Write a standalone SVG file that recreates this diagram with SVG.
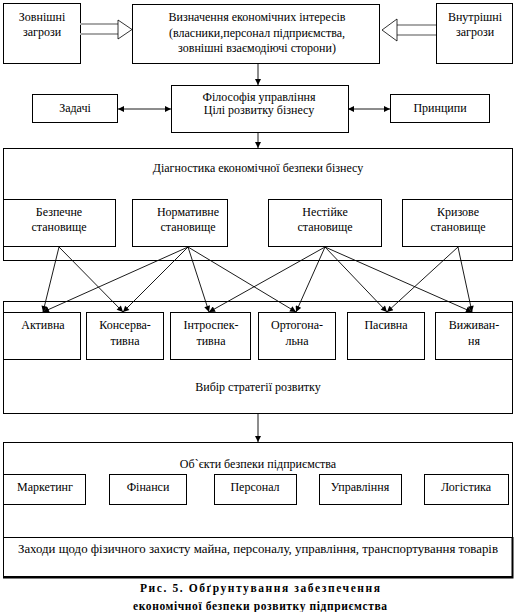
<svg xmlns="http://www.w3.org/2000/svg" width="519" height="612" viewBox="0 0 519 612">
<style>
  rect.b { fill: #fff; stroke: #000; stroke-width: 1; }
  text { font-family: "Liberation Serif", "Times New Roman", serif; font-size: 12px; fill: #000; text-anchor: middle; }
  text.cap { font-weight: bold; font-size: 11.5px; }
  .c line { stroke: #000; stroke-width: 0.9; fill: none; }
  .hollow .shaft { stroke: #a8a8a8; stroke-width: 2; }
  .hollow .head { fill: #fff; stroke: #000; stroke-width: 0.8; }
</style>
<defs>
  <marker id="ah" viewBox="0 0 10 10" refX="10" refY="5" markerWidth="7" markerHeight="6" markerUnits="userSpaceOnUse" orient="auto">
    <path d="M0,0 L10,5 L0,10 z" fill="#000"/>
  </marker>
  <marker id="as" viewBox="0 0 10 10" refX="0" refY="5" markerWidth="7" markerHeight="6" markerUnits="userSpaceOnUse" orient="auto">
    <path d="M10,0 L0,5 L10,10 z" fill="#000"/>
  </marker>
</defs>
<rect width="519" height="612" fill="#fff"/>

<g id="external-threats">
  <rect class="b" x="3.5" y="3.5" width="77" height="60"/>
  <text x="42" y="21">Зовнішні</text>
  <text x="42" y="36">загрози</text>
</g>
<g id="interests">
  <rect class="b" x="132.5" y="4.5" width="247" height="59"/>
  <text x="257" y="21">Визначення економічних інтересів</text>
  <text x="257" y="37">(власники,персонал підприємства,</text>
  <text x="257" y="52">зовнішні взаємодіючі сторони)</text>
</g>
<g id="internal-threats">
  <rect class="b" x="436.5" y="3.5" width="76" height="60"/>
  <text x="475" y="21">Внутрішні</text>
  <text x="475" y="36">загрози</text>
</g>
<g id="philosophy">
  <rect class="b" x="171.5" y="85.5" width="177" height="47"/>
  <text x="259" y="101">Філософія управління</text>
  <text x="259" y="114">Цілі розвитку бізнесу</text>
</g>
<g id="tasks">
  <rect class="b" x="32.5" y="94.5" width="85" height="28"/>
  <text x="75" y="112">Задачі</text>
</g>
<g id="principles">
  <rect class="b" x="390.5" y="94.5" width="99" height="28"/>
  <text x="440" y="112">Принципи</text>
</g>

<g id="diagnostics">
  <rect class="b" x="3.5" y="148.5" width="509" height="112"/>
  <text x="258" y="172">Діагностика економічної безпеки бізнесу</text>
</g>
<g id="state-safe">
  <rect class="b" x="3.5" y="199.5" width="112" height="47"/>
  <text x="59" y="216">Безпечне</text>
  <text x="59" y="231">становище</text>
</g>
<g id="state-normative">
  <rect class="b" x="132.5" y="199.5" width="95" height="47"/>
  <text x="188" y="216">Нормативне</text>
  <text x="188" y="231">становище</text>
</g>
<g id="state-unstable">
  <rect class="b" x="268.5" y="199.5" width="113" height="47"/>
  <text x="325" y="216">Нестійке</text>
  <text x="325" y="231">становище</text>
</g>
<g id="state-crisis">
  <rect class="b" x="402.5" y="199.5" width="110" height="47"/>
  <text x="458" y="216">Кризове</text>
  <text x="458" y="231">становище</text>
</g>

<g id="strategy">
  <rect class="b" x="3.5" y="301.5" width="509" height="112"/>
  <text x="258" y="391">Вибір стратегії розвитку</text>
</g>
<g id="strat-active">
  <rect class="b" x="3.5" y="312.5" width="77" height="47"/>
  <text x="43" y="329">Активна</text>
</g>
<g id="strat-conservative">
  <rect class="b" x="86.5" y="312.5" width="77" height="47"/>
  <text x="125" y="329">Консерва-</text>
  <text x="125" y="345">тивна</text>
</g>
<g id="strat-introspective">
  <rect class="b" x="170.5" y="312.5" width="80" height="47"/>
  <text x="211" y="329">Інтроспек-</text>
  <text x="211" y="345">тивна</text>
</g>
<g id="strat-orthogonal">
  <rect class="b" x="258.5" y="312.5" width="77" height="47"/>
  <text x="297" y="329">Ортогона-</text>
  <text x="297" y="345">льна</text>
</g>
<g id="strat-passive">
  <rect class="b" x="347.5" y="312.5" width="77" height="47"/>
  <text x="386" y="329">Пасивна</text>
</g>
<g id="strat-survival">
  <rect class="b" x="435.5" y="312.5" width="77" height="47"/>
  <text x="474" y="329">Виживан-</text>
  <text x="474" y="345">ня</text>
</g>

<g id="objects">
  <rect class="b" x="3.5" y="442.5" width="509" height="95"/>
  <text x="258" y="468">Об`єкти безпеки підприємства</text>
</g>
<g id="obj-marketing">
  <rect class="b" x="3.5" y="474.5" width="82" height="30"/>
  <text x="45" y="491">Маркетинг</text>
</g>
<g id="obj-finance">
  <rect class="b" x="109.5" y="474.5" width="77" height="30"/>
  <text x="148" y="491">Фінанси</text>
</g>
<g id="obj-personnel">
  <rect class="b" x="214.5" y="474.5" width="82" height="30"/>
  <text x="255" y="491">Персонал</text>
</g>
<g id="obj-management">
  <rect class="b" x="319.5" y="474.5" width="82" height="30"/>
  <text x="360" y="491">Управління</text>
</g>
<g id="obj-logistics">
  <rect class="b" x="424.5" y="474.5" width="84" height="30"/>
  <text x="466" y="491">Логістика</text>
</g>
<g id="measures">
  <rect class="b" x="3.5" y="537.5" width="509" height="39"/>
  <path d="M512.5,537 V577.5 H3" fill="none" stroke="#000" stroke-width="2"/>
  <text x="258" y="553" textLength="480" lengthAdjust="spacingAndGlyphs">Заходи щодо фізичного захисту майна, персоналу, управління, транспортування товарів</text>
</g>

<g id="caption">
  <text class="cap" x="260" y="592" textLength="240" lengthAdjust="spacing">Рис. 5. Обґрунтування забезпечення</text>
  <text class="cap" x="260" y="610" textLength="254" lengthAdjust="spacing">економічної безпеки розвитку підприємства</text>
</g>

<g id="connectors" class="c">
  <g class="hollow">
    <line class="shaft" x1="80" y1="24" x2="121" y2="24"/>
    <line class="shaft" x1="80" y1="34" x2="121" y2="34"/>
    <path class="head" d="M118,20 L132,29.5 L118,39 Z"/>
    <line class="shaft" x1="394" y1="25" x2="436" y2="25"/>
    <line class="shaft" x1="394" y1="35" x2="436" y2="35"/>
    <path class="head" d="M397,19 L382,30 L397,41 Z"/>
  </g>
  <line x1="258" y1="64" x2="258" y2="85" marker-end="url(#ah)"/>
  <line x1="258" y1="133" x2="258" y2="148" marker-end="url(#ah)"/>
  <line x1="258" y1="414" x2="258" y2="442" marker-end="url(#ah)"/>
  <line x1="118" y1="109" x2="171" y2="109" stroke="#555" marker-start="url(#as)" marker-end="url(#ah)"/>
  <line x1="348" y1="109" x2="390" y2="109" stroke="#555" marker-start="url(#as)" marker-end="url(#ah)"/>

  <line x1="59" y1="247" x2="43" y2="312" marker-end="url(#ah)"/>
  <line x1="59" y1="247" x2="123" y2="312" marker-end="url(#ah)"/>
  <line x1="188" y1="247" x2="43" y2="312" marker-end="url(#ah)"/>
  <line x1="188" y1="247" x2="123" y2="312" marker-end="url(#ah)"/>
  <line x1="188" y1="247" x2="209" y2="312" marker-end="url(#ah)"/>
  <line x1="188" y1="247" x2="296" y2="312" marker-end="url(#ah)"/>
  <line x1="325" y1="247" x2="209" y2="312" marker-end="url(#ah)"/>
  <line x1="325" y1="247" x2="296" y2="312" marker-end="url(#ah)"/>
  <line x1="325" y1="247" x2="387" y2="312" marker-end="url(#ah)"/>
  <line x1="325" y1="247" x2="472" y2="312" marker-end="url(#ah)"/>
  <line x1="458" y1="247" x2="387" y2="312" marker-end="url(#ah)"/>
  <line x1="458" y1="247" x2="472" y2="312" marker-end="url(#ah)"/>
</g>
</svg>
